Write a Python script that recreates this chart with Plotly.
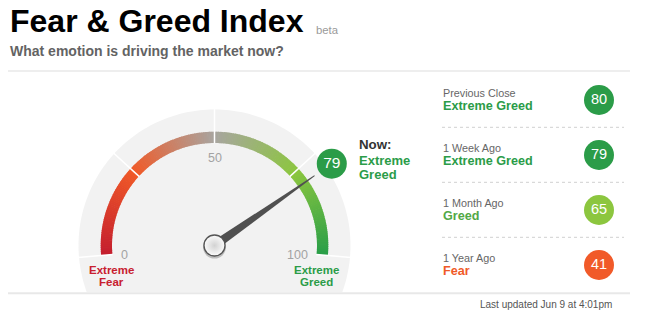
import numpy as np
import plotly.graph_objects as go

# ---------------- data ----------------
title_text = "Fear & Greed Index"
beta_text = "beta"
subtitle_text = "What emotion is driving the market now?"
now_value = 79
now_status = ["Extreme", "Greed"]
gauge_ticks = [0, 25, 50, 75, 100]
gauge_tick_labels = [0, 50, 100]
left_end_label = ["Extreme", "Fear"]
right_end_label = ["Extreme", "Greed"]
history_labels = ["Previous Close", "1 Week Ago", "1 Month Ago", "1 Year Ago"]
history_values = [80, 79, 65, 41]
history_status = ["Extreme Greed", "Extreme Greed", "Greed", "Fear"]
updated_text = "Last updated Jun 9 at 4:01pm"

# ---------------- style ----------------
W, H = 649, 326
FONT = "Liberation Sans, Arial, sans-serif"
GREEN = "#2b9c48"
badge_color = {"Extreme Greed": "#2b9c48", "Greed": "#8cc63f", "Fear": "#f15a29",
               "Extreme Fear": "#c8202f", "Neutral": "#aaaaaa"}
status_text_color = {"Extreme Greed": "#2b9c48", "Greed": "#52a847", "Fear": "#f05a28",
                     "Extreme Fear": "#c8202f", "Neutral": "#999999"}
grad_stops = [(0, (196, 30, 46)), (25, (240, 90, 40)), (50, (168, 165, 160)),
              (75, (140, 198, 63)), (100, (40, 158, 72))]

CX, CY = 214.5, 245.5
R_BG = 136
R_IN, R_OUT = 102.5, 113.8
BOTTOM_Y = 292


def ang(v):
    return np.radians(185 - 1.9 * v)


def pt(v, r):
    a = ang(v)
    return CX + r * np.cos(a), CY - r * np.sin(a)


def grad_color(v):
    for (v0, c0), (v1, c1) in zip(grad_stops[:-1], grad_stops[1:]):
        if v0 <= v <= v1:
            t = (v - v0) / (v1 - v0)
            c = [round(a + (b - a) * t) for a, b in zip(c0, c1)]
            return "rgb(%d,%d,%d)" % tuple(c)
    return "rgb(%d,%d,%d)" % grad_stops[-1][1]


shapes = []

# grey background disk clipped at bottom line
lim = np.degrees(np.arcsin((BOTTOM_Y - CY) / R_BG))
th = np.radians(np.linspace(-lim, 180 + lim, 160))
bx = CX + R_BG * np.cos(th)
by = CY - R_BG * np.sin(th)
path = "M " + " L ".join("%.2f,%.2f" % (a, b) for a, b in zip(bx, by)) + " Z"
shapes.append(dict(type="path", path=path, xref="x", yref="y", fillcolor="#f2f2f2",
                   line=dict(width=0), layer="below"))

# gradient arc
vs = np.linspace(0, 100, 201)
for i in range(len(vs) - 1):
    v0 = vs[i]
    v1 = min(vs[i + 1] + 0.2, 100)
    p1 = pt(v0, R_OUT); p2 = pt(v1, R_OUT); p3 = pt(v1, R_IN); p4 = pt(v0, R_IN)
    path = "M %.2f,%.2f L %.2f,%.2f L %.2f,%.2f L %.2f,%.2f Z" % (*p1, *p2, *p3, *p4)
    shapes.append(dict(type="path", path=path, xref="x", yref="y",
                       fillcolor=grad_color((v0 + vs[i + 1]) / 2), line=dict(width=0), layer="below"))

# white dividers
for v in gauge_ticks:
    x0, y0 = pt(v, R_IN - 0.5)
    x1, y1 = pt(v, R_BG + 1)
    shapes.append(dict(type="line", x0=x0, y0=y0, x1=x1, y1=y1, xref="x", yref="y",
                       line=dict(color="white", width=1.5), layer="below"))

# separators
shapes.append(dict(type="line", x0=8, x1=630, y0=71, y1=71, xref="x", yref="y",
                   line=dict(color="#e8e8e8", width=1.5), layer="below"))
shapes.append(dict(type="line", x0=8, x1=630, y0=293.2, y1=293.2, xref="x", yref="y",
                   line=dict(color="#e8e8e8", width=2), layer="below"))
for i in range(3):
    yy = 127.3 + 55 * i
    shapes.append(dict(type="line", x0=442, x1=624, y0=yy, y1=yy, xref="x", yref="y",
                       line=dict(color="#d0d0d0", width=1, dash="dot"), layer="below"))

fig = go.Figure()

# needle
a = ang(now_value)
perp = (np.sin(a), np.cos(a))  # perpendicular in screen coords
tipx, tipy = pt(now_value, 122)
hw = 4.6
nx = [CX + perp[0] * hw, tipx + perp[0] * 0.5, tipx - perp[0] * 0.5, CX - perp[0] * hw, CX + perp[0] * hw]
ny = [CY + perp[1] * hw, tipy + perp[1] * 0.5, tipy - perp[1] * 0.5, CY - perp[1] * hw, CY + perp[1] * hw]
fig.add_trace(go.Scatter(x=nx, y=ny, mode="lines", fill="toself", fillcolor="#505050",
                         line=dict(width=0, color="#505050"), hoverinfo="skip"))

# hub shadow + hub
fig.add_trace(go.Scatter(x=[CX], y=[CY + 1.5], mode="markers",
                         marker=dict(size=23, color="rgba(0,0,0,0.22)", line=dict(width=0)),
                         hoverinfo="skip"))
fig.add_trace(go.Scatter(x=[CX], y=[CY], mode="markers",
                         marker=dict(size=21, color="#fbfbfb",
                                     gradient=dict(type="radial", color="#d2d2d2"),
                                     line=dict(color="#555555", width=1.3)),
                         hoverinfo="skip"))

# current value badge
bxp, byp = pt(now_value, 143)
fig.add_trace(go.Scatter(x=[bxp], y=[byp], mode="markers+text", text=[str(now_value)],
                         textposition="middle center",
                         textfont=dict(family=FONT, size=15.5, color="white"),
                         marker=dict(size=30, color=GREEN, line=dict(width=0)), hoverinfo="skip"))

# history badges
hy = [100 + 55 * i for i in range(len(history_values))]
fig.add_trace(go.Scatter(x=[599] * len(hy), y=hy, mode="markers+text",
                         text=[str(v) for v in history_values], textposition="middle center",
                         textfont=dict(family=FONT, size=14.5, color="white"),
                         marker=dict(size=30, color=[badge_color[s] for s in history_status],
                                     line=dict(width=0)), hoverinfo="skip"))

ann = []


def txt(x, y, s, size, color, bold=False, xanchor="left", family=FONT):
    ann.append(dict(x=x, y=y, xref="x", yref="y", text=s, showarrow=False,
                    xanchor=xanchor, yanchor="middle",
                    font=dict(family=family, size=size, color=color,
                              weight="bold" if bold else "normal")))


txt(8, 21, title_text, 32, "#000000", bold=True)
txt(314, 30, beta_text, 11.3, "#9a9a9a")
txt(8, 51, subtitle_text, 14, "#636363", bold=True)

# gauge tick labels
for v in gauge_tick_labels:
    if v == 0:
        x, y = pt(v, 95.5)
        txt(x, 254.5, str(v), 12.5, "#a3a3a3", xanchor="left")
    elif v == 100:
        x, y = pt(v, 95.5)
        txt(x, 254.5, str(v), 12.5, "#a3a3a3", xanchor="right")
    else:
        x, y = pt(v, 88)
        txt(x, y, str(v), 12.5, "#a3a3a3", xanchor="center")

# end labels
for i, s in enumerate(left_end_label):
    txt(CX - 102.8, 269.5 + 12.4 * i, s, 11.5, "#c8202f", bold=True, xanchor="center")
for i, s in enumerate(right_end_label):
    txt(CX + 102.2, 269.5 + 12.4 * i, s, 11.5, GREEN, bold=True, xanchor="center")

# now label
txt(357, 144, "Now:", 13.3, "#333333", bold=True)
for i, s in enumerate(now_status):
    txt(357, 160.7 + 13.4 * i, s, 13, GREEN, bold=True)

# history rows
for i, (lab, st) in enumerate(zip(history_labels, history_status)):
    txt(441, 92.7 + 55 * i, lab, 10.8, "#666666")
    txt(441, 106.2 + 55 * i, st, 12.6, status_text_color[st], bold=True)

txt(614, 304, updated_text, 10, "#555555", xanchor="right")

fig.update_layout(
    width=W, height=H, autosize=False,
    margin=dict(l=0, r=0, t=0, b=0),
    paper_bgcolor="white", plot_bgcolor="white",
    showlegend=False,
    xaxis=dict(range=[0, W], visible=False, fixedrange=True),
    yaxis=dict(range=[H, 0], visible=False, fixedrange=True),
    shapes=shapes, annotations=ann,
)
fig.write_html("out.html", config={"displayModeBar": False})
